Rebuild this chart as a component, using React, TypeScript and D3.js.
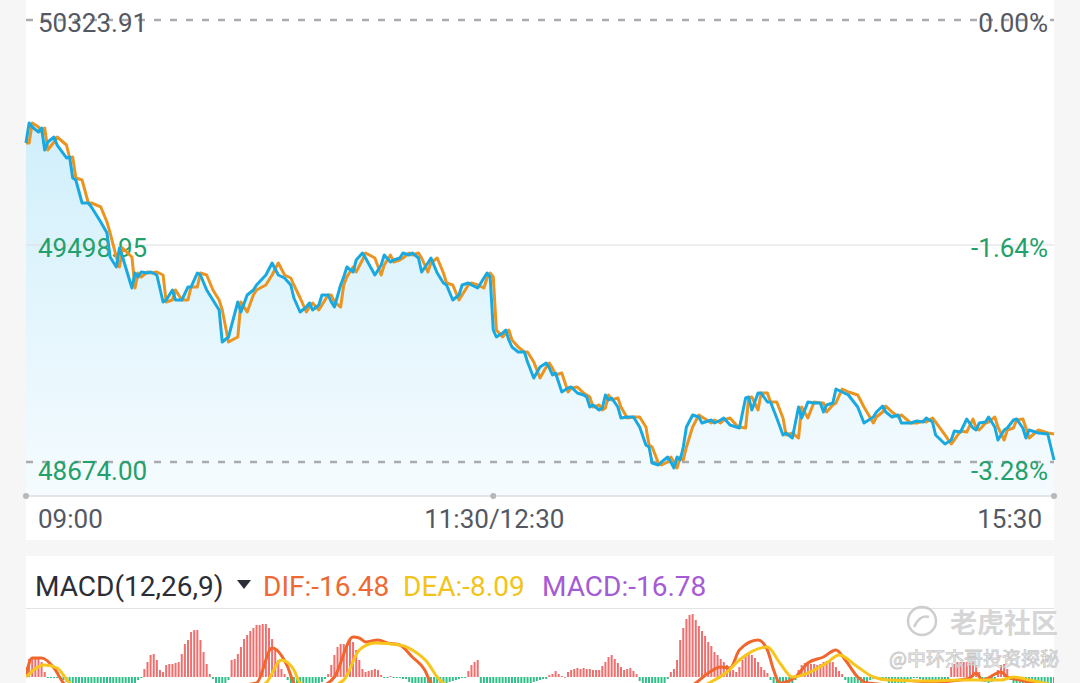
import React from 'react';
import * as d3 from 'd3';

// ---- intraday price (minutes since 09:00, trading time; 11:30/12:30 = 150) ----
const MINUTES = [0,1,2,4,5,6,7,9,10,13,14,15,16,18,20,21,24,26,27,29,30,31,34,35,36,37,39,40,42,44,45,47,48,50,52,53,55,56,58,60,62,63,65,68,69,71,73,74,77,79,81,83,85,86,88,90,91,92,94,95,97,98,99,101,102,103,105,106,108,109,112,114,115,117,118,120,121,123,124,126,127,129,130,132,134,135,137,139,140,142,143,145,147,148,149,150,151,153,154,155,156,158,160,161,163,165,167,168,169,170,172,174,175,177,179,180,181,182,184,185,186,187,188,190,191,193,195,197,199,200,201,203,204,206,207,208,209,210,211,212,214,216,217,220,221,223,224,226,228,229,231,232,233,235,236,238,239,241,243,244,246,248,249,251,253,255,256,257,259,260,262,264,267,269,272,273,275,276,278,280,281,284,286,288,289,291,292,295,297,298,300,302,304,305,306,308,309,311,312,314,315,317,318,320,321,322,325,328,330];

const PRICES = [49864.8,49939.4,49924.5,49905.8,49920.8,49838.7,49868.5,49887.2,49857.3,49808.8,49812.5,49734.1,49726.7,49640.8,49640.8,49625.9,49569.9,49528.8,49439.2,49401.9,49472.8,49439.2,49323.5,49379.5,49364.6,49383.2,49379.5,49383.2,49372.0,49271.3,49278.7,49316.1,49278.7,49278.7,49327.3,49327.3,49379.5,49372.0,49316.1,49278.7,49241.4,49122.0,49140.6,49271.3,49233.9,49297.4,49316.1,49334.7,49372.0,49416.8,49372.0,49360.9,49334.7,49286.2,49233.9,49252.6,49267.5,49241.4,49260.1,49297.4,49297.4,49271.3,49252.6,49334.7,49364.6,49401.9,49383.2,49428.0,49454.2,49435.5,49372.0,49409.4,49446.7,49420.6,49428.0,49435.5,49454.2,49446.7,49454.2,49435.5,49383.2,49416.8,49435.5,49379.5,49342.2,49334.7,49278.7,49297.4,49334.7,49342.2,49334.7,49323.5,49360.9,49379.5,49364.6,49166.7,49140.6,49155.5,49166.7,49129.4,49103.3,49084.6,49084.6,49047.3,48987.6,49028.6,49043.6,49024.9,48998.8,49006.2,48935.3,48950.2,48954.0,48931.6,48924.1,48916.6,48879.3,48886.8,48868.1,48875.6,48924.1,48905.5,48912.9,48879.3,48838.3,48842.0,48842.0,48804.7,48737.5,48730.0,48670.3,48662.8,48674.0,48692.7,48674.0,48651.6,48692.7,48681.5,48730.0,48804.7,48849.5,48842.0,48819.6,48830.8,48819.6,48830.8,48838.3,48812.1,48804.7,48800.9,48912.9,48916.6,48868.1,48931.6,48931.6,48898.0,48898.0,48838.3,48774.8,48782.3,48763.6,48879.3,48838.3,48898.0,48894.3,48894.3,48860.7,48886.8,48894.3,48946.5,48935.3,48924.1,48879.3,48819.6,48842.0,48860.7,48883.1,48860.7,48842.0,48849.5,48819.6,48819.6,48827.1,48823.3,48838.3,48823.3,48774.8,48741.2,48756.1,48789.7,48786.0,48834.5,48800.9,48793.5,48819.6,48823.3,48842.0,48804.7,48756.1,48793.5,48800.9,48830.8,48834.5,48800.9,48763.6,48793.5,48782.3,48778.5,48681.5];

// average price line (orange), lagging the price
const AVG_PRICES = [49864.8,49864.8,49939.4,49924.5,49905.8,49920.8,49838.7,49868.5,49887.2,49857.3,49808.8,49812.5,49734.1,49726.7,49640.8,49640.8,49625.9,49569.9,49528.8,49439.2,49401.9,49472.8,49439.2,49323.5,49379.5,49364.6,49383.2,49379.5,49383.2,49372.0,49271.3,49278.7,49316.1,49278.7,49278.7,49327.3,49327.3,49379.5,49372.0,49316.1,49278.7,49241.4,49122.0,49140.6,49271.3,49233.9,49297.4,49316.1,49334.7,49372.0,49416.8,49372.0,49360.9,49334.7,49286.2,49233.9,49252.6,49267.5,49241.4,49260.1,49297.4,49297.4,49271.3,49252.6,49334.7,49364.6,49401.9,49383.2,49428.0,49454.2,49435.5,49372.0,49409.4,49446.7,49420.6,49428.0,49435.5,49454.2,49446.7,49454.2,49435.5,49383.2,49416.8,49435.5,49379.5,49342.2,49334.7,49278.7,49297.4,49334.7,49342.2,49334.7,49323.5,49360.9,49379.5,49364.6,49166.7,49140.6,49155.5,49166.7,49129.4,49103.3,49084.6,49084.6,49047.3,48987.6,49028.6,49043.6,49024.9,48998.8,49006.2,48935.3,48950.2,48954.0,48931.6,48924.1,48916.6,48879.3,48886.8,48868.1,48875.6,48924.1,48905.5,48912.9,48879.3,48838.3,48842.0,48842.0,48804.7,48737.5,48730.0,48670.3,48662.8,48674.0,48692.7,48674.0,48651.6,48692.7,48681.5,48730.0,48804.7,48849.5,48842.0,48819.6,48830.8,48819.6,48830.8,48838.3,48812.1,48804.7,48800.9,48912.9,48916.6,48868.1,48931.6,48931.6,48898.0,48898.0,48838.3,48774.8,48782.3,48763.6,48879.3,48838.3,48898.0,48894.3,48894.3,48860.7,48886.8,48894.3,48946.5,48935.3,48924.1,48879.3,48819.6,48842.0,48860.7,48883.1,48860.7,48842.0,48849.5,48819.6,48819.6,48827.1,48823.3,48838.3,48823.3,48774.8,48741.2,48756.1,48789.7,48786.0,48834.5,48800.9,48793.5,48819.6,48823.3,48842.0,48804.7,48756.1,48793.5,48800.9,48830.8,48834.5,48800.9,48763.6,48793.5,48782.3,48778.5];

const PRICE_TICKS = [50323.91, 49498.95, 48674.0];
const PCT_LABELS = ['0.00%', '-1.64%', '-3.28%'];
const TIME_TICKS = [0, 150, 330];
const TIME_LABELS = ['09:00', '11:30/12:30', '15:30'];

// ---- MACD (one bar per minute, 0..330) ----
const MACD_HIST = [
  10,18,20,20,20,15,5,
  -1,-1,-1,-1,-2,-3,
  -5,-7,-9,-11,-13,-15,-17,-18,-19,-20,-20,-20,-19,-18,-17,-16,-15,-14,-13,-12,-10,-8,-6,-3,-1,
  8,15,22,23,17,7,5,12,13,13,14,15,23,33,37,45,47,47,37,25,13,3,
  -2,-6,-8,-8,-6,-3,
  17,18,23,30,38,42,46,49,52,52,53,53,49,38,27,17,8,3,
  -3,-8,-12,-15,-18,-18,-16,-14,-12,-10,-8,-5,-2,
  3,12,22,30,33,33,32,37,35,27,17,8,5,6,7,8,7,2,
  -1,-1,1,-1,-1,-1,-2,-2,
  -5,-8,-10,-12,-14,-15,-15,-14,-12,-10,-9,-8,-6,-5,-4,-3,-2,-1,-1,
  6,12,15,17,
  -8,-10,-12,-14,-15,-16,-16,-15,-14,-13,-12,-11,-10,-9,-8,-7,-6,-5,-4,-3,-2,-2,
  2,3,6,3,1,0,
  5,7,8,9,8,9,8,8,7,7,7,
  11,15,20,22,18,14,
  10,7,8,9,6,3,
  -4,-8,-11,-13,-15,-15,-13,-10,-6,-2,
  5,8,17,37,49,58,62,63,57,51,46,41,35,31,25,22,18,15,12,8,7,5,10,17,22,23,22,19,15,10,7,4,
  -3,-7,-10,-12,-12,-11,-9,-6,-3,
  7,12,14,13,13,13,12,13,15,16,16,15,10,6,3,
  -3,-6,-8,-9,-9,-8,-6,-5,-3,-2,-1,-1,-2,-4,-6,-7,-8,-8,-7,-6,-4,-2,-1,-1,-2,-4,-6,-8,-9,-9,-8,-6,-4,-2,
  10,13,15,15,15,15,14,15,12,5,
  -3,-5,-6,-5,-3,
  7,12,13,8,
  -3,-6,-8,-10,-11,-12,-13,-14,-15,-16,-17,-18,-19,-20,-16.78,
];

const DIF_MINUTES = [0,2,5,9,12,18,25,35,45,55,62,70,74,79,84,86,90,95,99,105,107,109,113,116,120,124,128,130,135,142,150,160,170,180,190,200,210,215,219,223,226,229,235,238,240,242,247,251,256,260,263,267,270,280,290,297,303,305,307,313,315,319,325,330];
const DIF_VALUES = [2,19,19,9,-6,-20,-30,-28,-20,-14,-12,-8,-6,29,10,-6,-16,-10,0,40,39,35,37,34,32,20,7,-6,-16,-12,-18,-24,-20,-16,-12,-20,-14,-6,4,10,9,27,37,27,7,-6,0,14,20,27,17,0,-6,-8,-6,-4,-1,4,-3,5,0,-3,-8,-16.48];

const DEA_MINUTES = [0,6,10,14,20,30,40,50,60,70,77,82,86,88,95,102,107,112,120,124,129,132,134,140,150,160,170,180,190,200,210,218,221,225,229,238,242,246,251,257,261,267,272,277,290,300,313,317,322,330];
const DEA_VALUES = [0,12,9,-6,-14,-22,-24,-20,-16,-14,-6,17,7,-6,-12,-3,27,34,32,27,14,0,-6,-12,-14,-18,-20,-17,-14,-15,-16,-8,-3,5,17,30,14,0,4,14,22,10,0,-3,-4,-3,-3,0,-3,-8.09];

const MACD_TITLE = 'MACD(12,26,9)';
const DIF_LABEL = 'DIF:-16.48';
const DEA_LABEL = 'DEA:-8.09';
const MACD_LABEL = 'MACD:-16.78';

const FONT = 'Roboto, "Noto Sans", sans-serif';
const CJK = '"Noto Sans CJK SC", sans-serif';

export default function App() {
  const W = 1080;
  const H = 683;
  const left = 26;
  const right = 1054;

  const x = d3.scaleLinear().domain([0, 330]).range([left, right]);
  const y = d3.scaleLinear().domain([48674.0, 50323.91]).range([462, 20]);
  const axisY = 496;
  const my = d3.scaleLinear().domain([-60, 66]).range([737, 611]);

  const priceLine = d3.line<number>().x((_, i) => x(MINUTES[i])).y((d) => y(d));
  const avgLine = d3.line<number>().x((_, i) => x(MINUTES[i])).y((d) => y(d));
  const priceArea = d3
    .area<number>()
    .x((_, i) => x(MINUTES[i]))
    .y0(axisY)
    .y1((d) => y(d));

  const difLine = d3
    .line<number>()
    .x((_, i) => x(DIF_MINUTES[i]))
    .y((d) => my(d))
    .curve(d3.curveMonotoneX);
  const deaLine = d3
    .line<number>()
    .x((_, i) => x(DEA_MINUTES[i]))
    .y((d) => my(d))
    .curve(d3.curveMonotoneX);

  const gray = '#545862';
  const green = '#23a06b';
  const midGridY = y(PRICE_TICKS[1]) + 4;

  return (
    <svg
      width={W}
      height={H}
      style={{ position: 'absolute', left: 0, top: 0, display: 'block' }}
      fontFamily={FONT}
    >
      <defs>
        <linearGradient id="areaGrad" gradientUnits="userSpaceOnUse" x1={0} y1={120} x2={0} y2={axisY}>
          <stop offset="0" stopColor="#cdeefb" stopOpacity={0.95} />
          <stop offset="1" stopColor="#f4fbfe" stopOpacity={0.9} />
        </linearGradient>
        <clipPath id="macdClip">
          <rect x={left} y={610} width={right - left} height={H - 610} />
        </clipPath>
      </defs>

      <rect x={0} y={0} width={W} height={H} fill="#f6f6f7" />
      <rect x={left} y={0} width={right - left} height={540} fill="#ffffff" />
      <rect x={left} y={556} width={right - left} height={H - 556} fill="#ffffff" />

      {/* price area */}
      <path d={priceArea(PRICES) || ''} fill="url(#areaGrad)" />

      {/* grid lines */}
      <line x1={left} x2={right} y1={y(PRICE_TICKS[0])} y2={y(PRICE_TICKS[0])} stroke="#a9abb0" strokeWidth={2.5} strokeDasharray="7 9" />
      <line x1={left} x2={right} y1={midGridY} y2={midGridY} stroke="#dcdde0" strokeWidth={1} />
      <line x1={left} x2={right} y1={y(PRICE_TICKS[2])} y2={y(PRICE_TICKS[2])} stroke="#a9abb0" strokeWidth={2.5} strokeDasharray="7 9" />
      <line x1={left} x2={right} y1={axisY} y2={axisY} stroke="#dcdde0" strokeWidth={1.5} />
      {TIME_TICKS.map((t) => (
        <circle key={'dot' + t} cx={x(t)} cy={axisY} r={3} fill="#b5b7bb" />
      ))}

      {/* price labels */}
      {PRICE_TICKS.map((p, i) => {
        const yy = i === 1 ? midGridY : y(p);
        const by = i === 0 ? yy + 12 : i === 1 ? yy + 12 : yy + 18;
        const c = i === 0 ? gray : green;
        return (
          <g key={'pl' + i}>
            <text x={38} y={by} fontSize={26} fill={c}>{p.toFixed(2)}</text>
            <text x={1048} y={by} fontSize={26} fill={c} textAnchor="end">{PCT_LABELS[i]}</text>
          </g>
        );
      })}

      {/* lines */}
      <path d={avgLine(AVG_PRICES) || ''} fill="none" stroke="#ec9420" strokeWidth={3} strokeLinejoin="round" />
      <path d={priceLine(PRICES) || ''} fill="none" stroke="#19a9e1" strokeWidth={3} strokeLinejoin="round" />

      {/* time labels */}
      {TIME_TICKS.map((t, i) => (
        <text
          key={'tl' + i}
          x={i === 0 ? 38 : i === 1 ? x(t) + 1 : 1042}
          y={528}
          fontSize={26}
          fill={gray}
          textAnchor={i === 0 ? 'start' : i === 1 ? 'middle' : 'end'}
        >
          {TIME_LABELS[i]}
        </text>
      ))}

      {/* MACD header */}
      <text x={35} y={596} fontSize={28} fill="#2b2e36">{MACD_TITLE}</text>
      <path d="M237,580 L251,580 L244,589 Z" fill="#2b2e36" />
      <text x={263} y={596} fontSize={28} fill="#ee6a34">{DIF_LABEL}</text>
      <text x={403} y={596} fontSize={28} fill="#f2c318">{DEA_LABEL}</text>
      <text x={542} y={596} fontSize={28} fill="#a55bd6">{MACD_LABEL}</text>
      <line x1={left} x2={right} y1={608.5} y2={608.5} stroke="#e2e3e5" strokeWidth={1} />

      {/* MACD bars & lines */}
      <g clipPath="url(#macdClip)">
        {MACD_HIST.map((v, i) => {
          const y0 = my(0);
          const y1 = my(v);
          return (
            <rect
              key={'b' + i}
              x={x(i) - 1}
              width={2}
              y={Math.min(y0, y1)}
              height={Math.max(0.8, Math.abs(y1 - y0))}
              fill={v >= 0 ? '#ef6e6e' : '#2fc089'}
            />
          );
        })}
        <path d={difLine(DIF_VALUES) || ''} fill="none" stroke="#f0662c" strokeWidth={3} />
        <path d={deaLine(DEA_VALUES) || ''} fill="none" stroke="#f7c51c" strokeWidth={3} />
      </g>

      {/* watermark */}
      <g opacity={0.9}>
        <circle cx={922} cy={621} r={14} fill="none" stroke="#c9c9c9" strokeWidth={2.5} />
        <path d="M914,627 q6,-13 15,-10" fill="none" stroke="#c9c9c9" strokeWidth={2.5} />
        <text x={950} y={633} fontSize={27} fontFamily={CJK} fontWeight={700} fill="#d2d2d2">老虎社区</text>
        <text x={889} y={666} fontSize={19} fontFamily={CJK} fill="#ffffff" stroke="#c4c4c4" strokeWidth={0.9}>@中环杰哥投资探秘</text>
      </g>
    </svg>
  );
}
